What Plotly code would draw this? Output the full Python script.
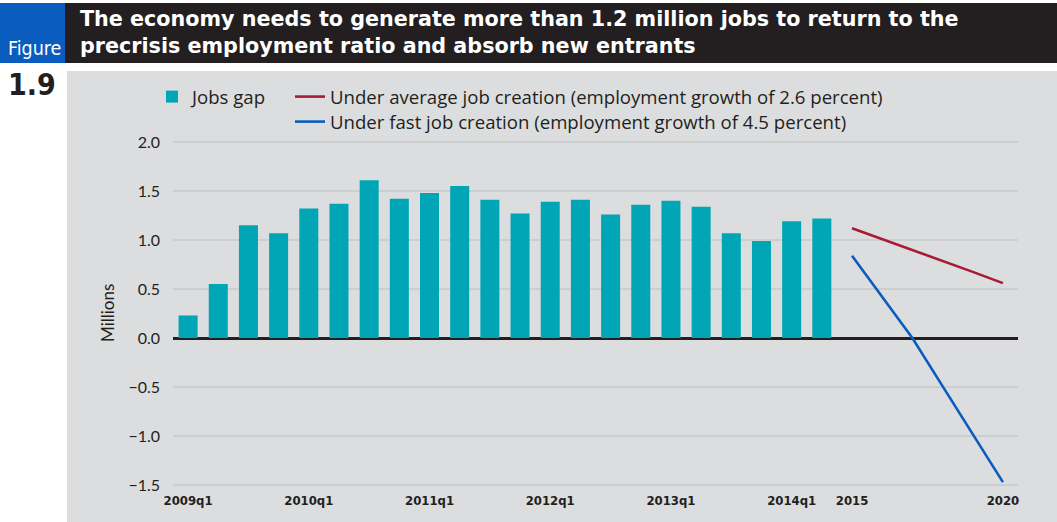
import plotly.graph_objects as go

quarters = ["2009q1", "2009q2", "2009q3", "2009q4",
            "2010q1", "2010q2", "2010q3", "2010q4",
            "2011q1", "2011q2", "2011q3", "2011q4",
            "2012q1", "2012q2", "2012q3", "2012q4",
            "2013q1", "2013q2", "2013q3", "2013q4",
            "2014q1", "2014q2"]
jobs_gap = [0.23, 0.55, 1.15, 1.07, 1.32, 1.37, 1.61, 1.42,
            1.48, 1.55, 1.41, 1.27, 1.39, 1.41, 1.26, 1.36,
            1.40, 1.34, 1.07, 0.99, 1.19, 1.22]
years = ["2015", "2016", "2017", "2018", "2019", "2020"]
avg_creation = [1.12, 1.01, 0.90, 0.79, 0.675, 0.56]
fast_creation = [0.84, 0.42, 0.0, -0.49, -0.98, -1.47]

tick_vals = ["2009q1", "2010q1", "2011q1", "2012q1", "2013q1", "2014q1", "2015", "2020"]
y_ticks = [-1.5, -1.0, -0.5, 0.0, 0.5, 1.0, 1.5, 2.0]

title_lines = ["The economy needs to generate more than 1.2 million jobs to return to the",
               "precrisis employment ratio and absorb new entrants"]

W, H = 1057, 522
L, R, T, B = 173, 39, 139, 31
PW, PH = W - L - R, H - T - B


def px(x):
    return (x - L) / PW


def py(y):
    return (H - B - y) / PH


TEAL = "#00A6B6"
RED = "#A71C33"
BLUE = "#0A5CBF"
DARK = "#231F20"
BODY = "Lato, 'Open Sans', sans-serif"
LEG = "'Open Sans', Lato, sans-serif"
NARROW = "'DejaVu Sans Condensed', 'Liberation Sans Narrow', 'Roboto Condensed', sans-serif"

fig = go.Figure()
fig.add_trace(go.Bar(x=quarters, y=jobs_gap, name="Jobs gap", marker_color=TEAL,
                     marker_line_width=0, width=0.63, legend="legend"))
fig.add_trace(go.Scatter(x=years, y=avg_creation, mode="lines",
                         name="Under average job creation (employment growth of 2.6 percent)",
                         line=dict(color=RED, width=2.6), legend="legend2"))
fig.add_trace(go.Scatter(x=years, y=fast_creation, mode="lines",
                         name="Under fast job creation (employment growth of 4.5 percent)",
                         line=dict(color=BLUE, width=2.6), legend="legend3"))

shapes = [
    dict(type="rect", xref="paper", yref="paper", x0=px(67), x1=px(W), y0=py(71), y1=py(H),
         fillcolor="#DCDDDF", line_width=0, layer="below"),
    dict(type="rect", xref="paper", yref="paper", x0=px(65), x1=px(W), y0=py(3), y1=py(63),
         fillcolor=DARK, line_width=0, layer="below"),
    dict(type="rect", xref="paper", yref="paper", x0=px(0), x1=px(65), y0=py(3), y1=py(63),
         fillcolor="#0A5CBF", line_width=0, layer="below"),
]

annotations = [
    dict(text="<br>".join(title_lines), xref="paper", yref="paper", x=px(78), y=py(32),
         xanchor="left", yanchor="middle", align="left", showarrow=False,
         font=dict(family="'DejaVu Sans', sans-serif", size=20.7, color="white", weight="bold")),
    dict(text="Figure", xref="paper", yref="paper", x=px(34), y=py(48),
         xanchor="center", yanchor="middle", showarrow=False,
         font=dict(family=NARROW, size=19.5, color="white")),
    dict(text="1.9", xref="paper", yref="paper", x=px(32), y=py(84),
         xanchor="center", yanchor="middle", showarrow=False,
         font=dict(family=NARROW, size=30, color=DARK, weight="bold")),
    dict(text="Millions", xref="paper", yref="paper", x=px(107), y=py(313),
         xanchor="center", yanchor="middle", textangle=-90, showarrow=False,
         font=dict(family=BODY, size=17, color=DARK)),
]

leg_common = dict(xanchor="left", yanchor="top", bgcolor="rgba(0,0,0,0)",
                  font=dict(family=LEG, size=18.6, color=DARK), orientation="v")

fig.update_layout(
    width=W, height=H,
    margin=dict(l=L, r=R, t=T, b=B, pad=0),
    paper_bgcolor="white",
    plot_bgcolor="rgba(0,0,0,0)",
    font=dict(family=BODY, color=DARK),
    shapes=shapes,
    annotations=annotations,
    showlegend=True,
    legend=dict(x=px(152), y=py(78), **leg_common),
    legend2=dict(x=px(290), y=py(78), **leg_common),
    legend3=dict(x=px(290), y=py(103), **leg_common),
)

fig.update_xaxes(
    type="category",
    categoryorder="array",
    categoryarray=quarters + years,
    range=[-0.5, len(quarters) + len(years) - 0.5],
    tickmode="array",
    tickvals=tick_vals,
    ticktext=tick_vals,
    showgrid=False,
    showline=False,
    ticks="",
    tickfont=dict(family=NARROW, size=13, color=DARK, weight="bold"),
)
fig.update_yaxes(
    range=[-1.56, 2.03],
    tickmode="array",
    tickvals=y_ticks,
    ticktext=[f"{v:.1f}".replace("-", "\u2212") for v in y_ticks],
    showgrid=True,
    gridcolor="#CDCED0",
    gridwidth=1.5,
    zeroline=True,
    zerolinecolor=DARK,
    zerolinewidth=2.8,
    showline=False,
    ticks="",
    ticklabelstandoff=12,
    tickfont=dict(family=BODY, size=16, color=DARK),
)

fig.write_html("out.html", config={"displayModeBar": False},
               post_script="document.body.style.margin='0';")
